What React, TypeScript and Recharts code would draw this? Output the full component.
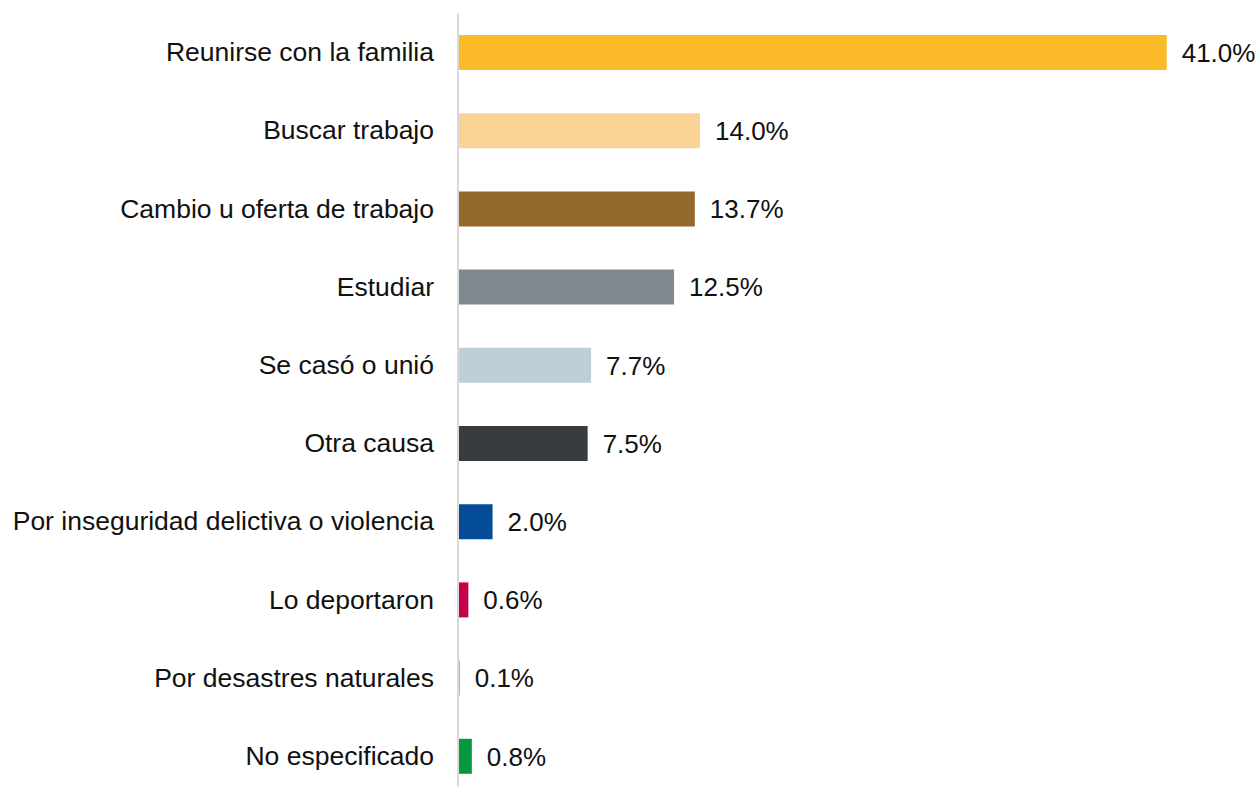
import React from "react";
import { BarChart, Bar, XAxis, YAxis, Cell, LabelList } from "recharts";

const categories = [
  "Reunirse con la familia",
  "Buscar trabajo",
  "Cambio u oferta de trabajo",
  "Estudiar",
  "Se casó o unió",
  "Otra causa",
  "Por inseguridad delictiva o violencia",
  "Lo deportaron",
  "Por desastres naturales",
  "No especificado",
];
const values = [41.0, 14.0, 13.7, 12.5, 7.7, 7.5, 2.0, 0.6, 0.1, 0.8];
const colors = [
  "#FBBA27",
  "#FAD497",
  "#94682D",
  "#7E888D",
  "#BDD0D7",
  "#393C3F",
  "#044C98",
  "#C5004E",
  "#E8825E",
  "#06983F",
];

const data = categories.map((name, i) => ({ name, value: values[i], color: colors[i] }));

const FONT = "'Liberation Sans', Arial, sans-serif";

const YTick = (props: any) => {
  const { x, y, payload } = props;
  return (
    <text x={x} y={y} dy={9} textAnchor="end" fontFamily={FONT} fontSize={26.5} fill="#111">
      {payload.value}
    </text>
  );
};

export default function App() {
  return (
    <div style={{ position: "absolute", left: 0, top: 0, background: "#fff" }}>
      <BarChart
        width={1258}
        height={800}
        data={data}
        layout="vertical"
        margin={{ top: 13, right: 74, bottom: 5, left: 0 }}
        barCategoryGap={0}
      >
        <XAxis type="number" domain={[0, 42]} hide />
        <YAxis
          type="category"
          dataKey="name"
          width={458}
          axisLine={{ stroke: "#D9D9D9", strokeWidth: 2 }}
          tickLine={false}
          tickSize={0}
          tickMargin={24}
          tick={<YTick />}
          interval={0}
        />
        <Bar dataKey="value" barSize={35} isAnimationActive={false}>
          {data.map((d, i) => (
            <Cell key={i} fill={d.color} />
          ))}
          <LabelList
            dataKey="value"
            position="right"
            offset={15}
            formatter={(v: any) => `${Number(v).toFixed(1)}%`}
            style={{ fontFamily: FONT, fontSize: 26, fill: "#111" }}
          />
        </Bar>
      </BarChart>
    </div>
  );
}
